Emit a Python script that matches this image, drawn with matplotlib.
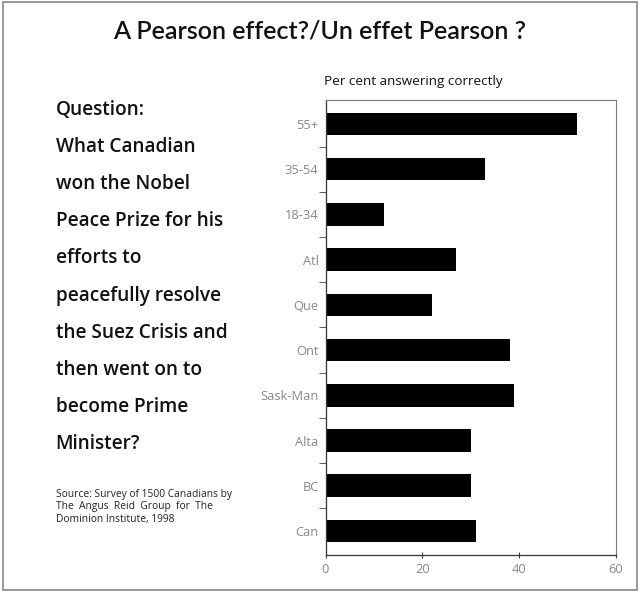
import matplotlib.pyplot as plt
from matplotlib.patches import Rectangle

# Data
groups = ['55+', '35-54', '18-34', 'Atl', 'Que', 'Ont', 'Sask-Man', 'Alta', 'BC', 'Can']
pct_correct = [52, 33, 12, 27, 22, 38, 39, 30, 30, 31]
question_lines = ['Question:', 'What Canadian', 'won the Nobel', 'Peace Prize for his',
                  'efforts to', 'peacefully resolve', 'the Suez Crisis and',
                  'then went on to', 'become Prime', 'Minister?']

fig = plt.figure(figsize=(6.4, 5.94), dpi=100)

# outer frame
fig.patches.append(Rectangle((0.004, 0.006), 0.992, 0.99, transform=fig.transFigure,
                             fill=False, edgecolor='#888888', linewidth=1.2))

fig.text(0.5, 0.948, 'A Pearson effect?/Un effet Pearson ?', ha='center', va='center',
         fontsize=18, fontfamily='Lato', fontweight='semibold', color='#111111')

ax = fig.add_axes([0.5086, 0.0657, 0.454, 0.766])
y = range(len(groups))
ax.barh(y, pct_correct, height=0.5, color='black')
ax.set_xlim(0, 60)
ax.set_ylim(len(groups) - 0.47, -0.53)
ax.set_xticks([0, 20, 40, 60])
ax.set_yticks(list(y))
ax.set_yticklabels(groups)
ax.set_yticks([i + 0.5 for i in range(len(groups) - 1)], minor=True)
ax.tick_params(axis='y', which='major', length=0, pad=5, labelsize=9.3, labelcolor='#888888')
ax.tick_params(axis='y', which='minor', length=5, direction='out', color='#444444')
ax.tick_params(axis='x', length=5, direction='inout', labelsize=9.3, labelcolor='#888888',
               color='#444444')
for lbl in ax.get_yticklabels() + ax.get_xticklabels():
    lbl.set_fontfamily('Open Sans')
for side in ['top', 'right']:
    ax.spines[side].set_linestyle((0, (1, 1)))
    ax.spines[side].set_color('#777777')
    ax.spines[side].set_linewidth(0.8)
for side in ['left', 'bottom']:
    ax.spines[side].set_color('#333333')
    ax.spines[side].set_linewidth(0.9)

fig.text(0.506, 0.863, 'Per cent answering correctly', ha='left', va='center',
         fontsize=9.7, fontfamily='Open Sans', color='#111111')

# question text on the left
for i, line in enumerate(question_lines):
    fig.text(0.087, 0.815 - i * 0.0625, line, ha='left', va='center',
             fontsize=13.7, fontfamily='Open Sans', fontweight='semibold', color='#111111')

fig.text(0.087, 0.147, 'Source: Survey of 1500 Canadians by\nThe  Angus  Reid  Group  for  The\nDominion Institute, 1998',
         ha='left', va='center', fontsize=7.4, fontfamily='Open Sans', color='#222222',
         linespacing=1.2)

plt.savefig('out.png', dpi=100)
